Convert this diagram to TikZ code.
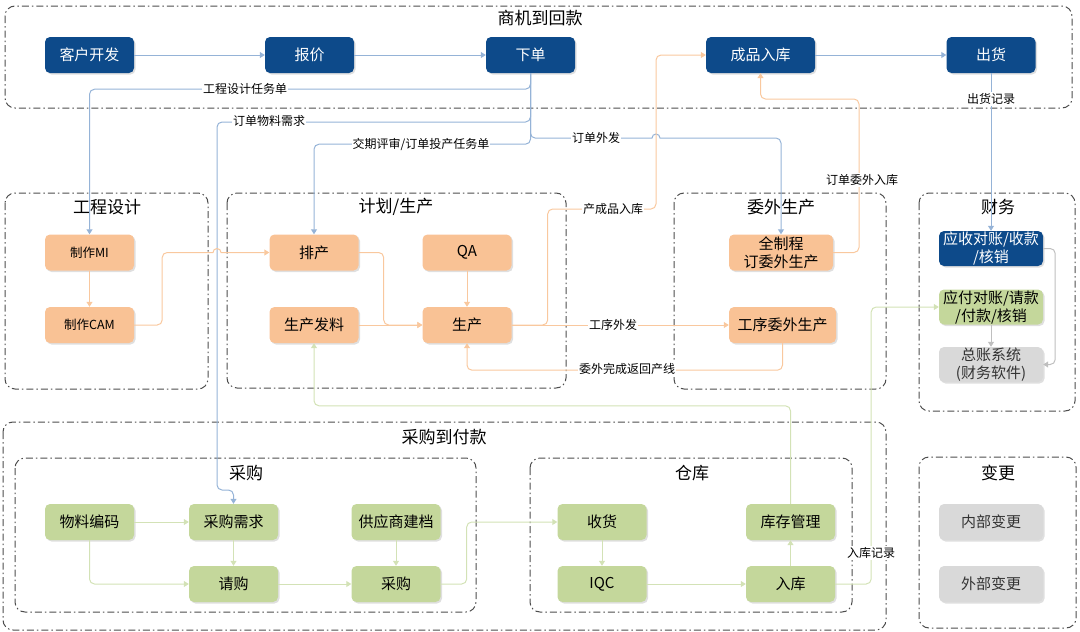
\documentclass[tikz,border=0pt]{standalone}
\usepackage{fontspec}
\setmainfont{Noto Sans CJK SC}
\usepackage{xcolor}
\definecolor{darkblue}{HTML}{0D4A8A}
\definecolor{boxorange}{HTML}{F9C295}
\definecolor{boxgreen}{HTML}{C4D79B}
\definecolor{boxgray}{HTML}{D9D9D9}
\definecolor{lineblue}{HTML}{95B3D7}
\definecolor{lineorange}{HTML}{F9C89E}
\definecolor{linegreen}{HTML}{D3E2B6}
\definecolor{linegray}{HTML}{BFBFBF}
\definecolor{grpgray}{HTML}{4D4D4D}
\usetikzlibrary{arrows.meta,shadows}

\begin{document}
\begin{tikzpicture}[x=1pt, y=-1pt,
		box/.style={rounded corners=5pt, minimum width=89pt, minimum height=36pt, inner sep=0pt, align=center,
			font=\fontsize{15}{18}\selectfont, drop shadow={shadow xshift=1.5pt, shadow yshift=-1.5pt, opacity=0.25}},
		bluebox/.style={box, fill=darkblue, text=white},
		orangebox/.style={box, fill=boxorange},
		greenbox/.style={box, fill=boxgreen},
		graybox/.style={box, fill=boxgray, text=black!80},
		grp/.style={draw=grpgray, line width=1pt, rounded corners=10pt, dash pattern=on 7pt off 3pt on 1.5pt off 3pt},
		grptitle/.style={font=\fontsize{17}{17}\selectfont},
		lbl/.style={fill=white, inner sep=1pt, font=\fontsize{12}{12}\selectfont},
		conn/.style={line width=1pt, rounded corners=5pt, -{Triangle[width=6pt, length=5pt]}},
		bline/.style={conn, draw=lineblue},
		oline/.style={conn, draw=lineorange},
		gline/.style={conn, draw=linegreen},
		kline/.style={conn, draw=linegray}]
			\useasboundingbox (0,0) rectangle (1080,632);

			% Groups
			\draw[grp] (5,6) rectangle (1072,108);
			\draw[grp] (5,193) rectangle (208,389);
			\draw[grp] (227,193) rectangle (566,388);
			\draw[grp] (674,193) rectangle (886,389);
			\draw[grp] (919,193) rectangle (1075,411);
			\draw[grp] (3,422) rectangle (886,630);
			\draw[grp] (15,458) rectangle (476,612);
			\draw[grp] (530,458) rectangle (852,612);
			\draw[grp] (919,457) rectangle (1076,628);

			% Labels for groups
			\node[grptitle] (t_sj) at (540,18) {商机到回款};
			\node[grptitle] (t_gc) at (107,207) {工程设计};
			\node[grptitle] (t_jh) at (396,207) {计划/生产};
			\node[grptitle] (t_ww) at (781,207) {委外生产};
			\node[grptitle] (t_cw) at (998,207) {财务};
			\node[grptitle] (t_cg) at (444,437) {采购到付款};
			\node[grptitle] (t_gou) at (246,473) {采购};
			\node[grptitle] (t_ck) at (692,473) {仓库};
			\node[grptitle] (t_bg) at (998,473) {变更};

			% Top row
			\node[bluebox] (khkf) at (89.5,55) {客户开发};
			\node[bluebox] (baojia) at (309.5,55) {报价};
			\node[bluebox] (xiadan) at (530.5,55) {下单};
			\node[bluebox, minimum width=109pt] (chengpin) at (760.5,55) {成品入库};
			\node[bluebox] (chuhuo) at (991,55) {出货};

			% Engineering and production
			\node[orangebox, font=\fontsize{12.5}{14}\selectfont] (mi) at (89.5,252.5) {制作MI};
			\node[orangebox, font=\fontsize{12.5}{14}\selectfont] (cam) at (89.5,325) {制作CAM};
			\node[orangebox] (paichan) at (314,252.5) {排产};
			\node[orangebox] (qa) at (467,252.5) {QA};
			\node[orangebox] (faliao) at (314,325) {生产发料};
			\node[orangebox] (shengchan) at (467,325) {生产};
			\node[orangebox, minimum width=104pt] (quan) at (781,252.5) {全制程\\订委外生产};
			\node[orangebox, minimum width=107pt] (gongxu) at (782.5,325) {工序委外生产};

			% Finance
			\node[bluebox, minimum width=104pt, minimum height=35pt] (yingshou) at (991,248.5) {应收对账/收款\\/核销};
			\node[greenbox, minimum width=104pt, minimum height=35pt] (yingfu) at (991,307) {应付对账/请款\\/付款/核销};
			\node[graybox, minimum width=104pt, minimum height=35pt] (zongzhang) at (991,364.5) {总账系统\\(财务软件)};

			% Purchasing and warehouse
			\node[greenbox] (wuliao) at (89.5,522) {物料编码};
			\node[greenbox] (cgxq) at (233.5,522) {采购需求};
			\node[greenbox] (gys) at (396,522) {供应商建档};
			\node[greenbox] (qinggou) at (233.5,584) {请购};
			\node[greenbox] (caigou) at (396,584) {采购};
			\node[greenbox] (shouhuo) at (602,522) {收货};
			\node[greenbox] (kucun) at (790.5,522) {库存管理};
			\node[greenbox] (iqc) at (602,584) {IQC};
			\node[greenbox] (ruku) at (790.5,584) {入库};

			% Changes
			\node[graybox, minimum width=104pt] (neibu) at (991,522) {内部变更};
			\node[graybox, minimum width=104pt] (waibu) at (991,584) {外部变更};

			% Blue flows
			\draw[bline] (khkf) -- (baojia);
			\draw[bline] (baojia) -- (xiadan);
			\draw[bline] (chengpin) -- (chuhuo);
			\draw[bline] (xiadan.south) -- ++(0,16) -| (mi.north);
			\draw[bline] (xiadan.south) |- (217,122) -- (217,490) -| (cgxq.north);
			\draw[bline] (xiadan.south) -- ++(0,71) -| (paichan.north);
			\draw[bline] (xiadan.south) -- ++(0,65) -- (646,138) [sharp corners] -- (652,138)
				arc[start angle=180, end angle=0, radius=4pt] -- (666,138) [rounded corners=5pt] -| (quan.north);
			\draw[bline] (chuhuo) -- (yingshou);

			% Orange flows
			\draw[oline] (mi) -- (cam);
			\draw[oline] (cam.east) -- ++(28,0) |- (207,252.5) [sharp corners] -- (213,252.5)
				arc[start angle=180, end angle=0, radius=4pt] -- (227,252.5) [rounded corners=5pt] -- (paichan.west);
			\draw[oline] (paichan.east) -- ++(25,0) |- (shengchan.west);
			\draw[oline] (faliao) -- (shengchan);
			\draw[oline] (qa) -- (shengchan);
			\draw[oline] (shengchan.east) -- ++(36,0) |- (656,209) |- (chengpin.west);
			\draw[oline] (shengchan) -- (gongxu);
			\draw[oline] (gongxu.south) -- ++(0,27) -| (shengchan.south);
			\draw[oline] (quan.east) -| (859,99) -| (chengpin.south);

			% Gray flows
			\draw[kline] (yingshou.east) -- ++(12,0) |- (zongzhang.east);
			\draw[kline] (yingfu) -- (zongzhang);

			% Green flows
			\draw[gline] (wuliao) -- (cgxq);
			\draw[gline] (wuliao.south) |- (qinggou.west);
			\draw[gline] (cgxq) -- (qinggou);
			\draw[gline] (gys) -- (caigou);
			\draw[gline] (qinggou) -- (caigou);
			\draw[gline] (caigou.east) -- ++(26,0) |- (shouhuo.west);
			\draw[gline] (shouhuo) -- (iqc);
			\draw[gline] (iqc) -- (ruku);
			\draw[gline] (ruku) -- (kucun);
			\draw[gline] (kucun.north) -- ++(0,-98) -| (faliao.south);
			\draw[gline] (ruku.east) -- ++(36,0) |- (yingfu.west);

			% Labels on flows
			\node[lbl] (l_gcsj) at (245,89) {工程设计任务单};
			\node[lbl] (l_ddwl) at (269,121) {订单物料需求};
			\node[lbl] (l_jqps) at (421,144) {交期评审/订单投产任务单};
			\node[lbl] (l_ddwf) at (596,138) {订单外发};
			\node[lbl] (l_chjl) at (991,99) {出货记录};
			\node[lbl] (l_ddww) at (862,180) {订单委外入库};
			\node[lbl] (l_ccp) at (613,209) {产成品入库};
			\node[lbl] (l_gxwf) at (613,325) {工序外发};
			\node[lbl] (l_wwwc) at (627,369) {委外完成返回产线};
			\node[lbl] (l_rkjl) at (871,553) {入库记录};
		\end{tikzpicture}
\end{document}
